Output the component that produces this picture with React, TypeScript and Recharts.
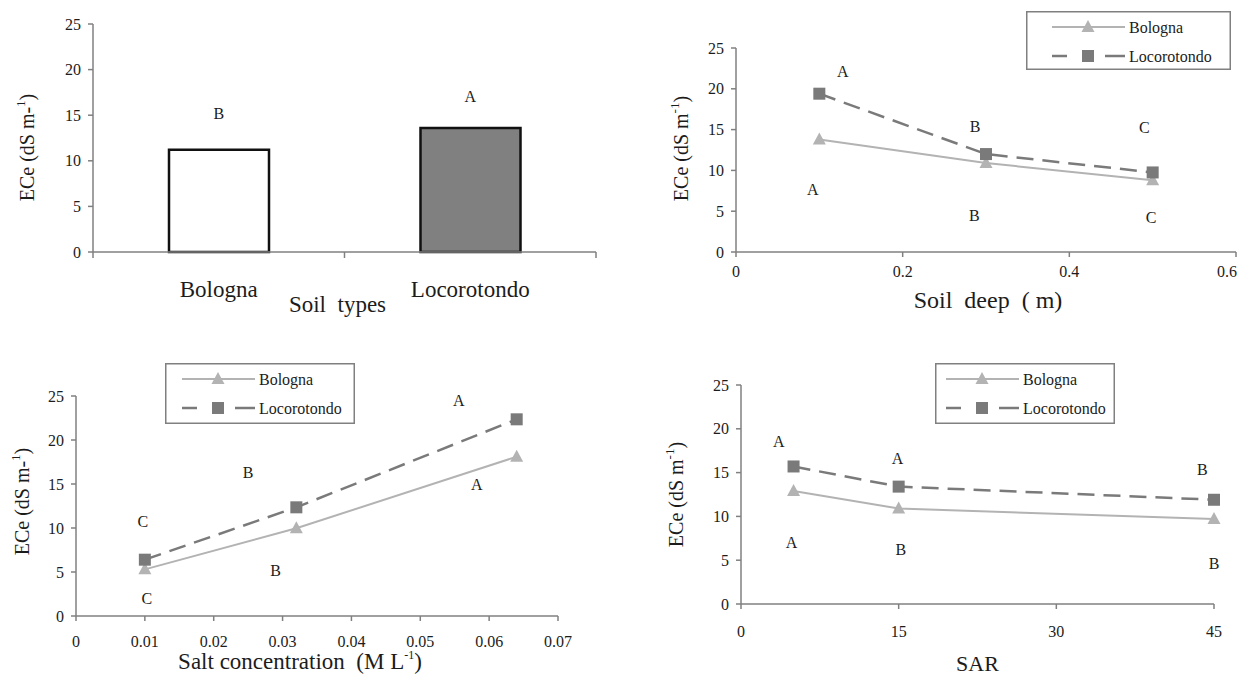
import React from 'react';
import { ComposedChart, Line, Bar, Cell, Scatter, XAxis, YAxis, Legend, Label } from 'recharts';

// ---------- data ----------
const seriesNames = ['Bologna', 'Locorotondo'];
const yTicks = [0, 5, 10, 15, 20, 25];

// Panel 1: soil types (bar)
const soilTypes = ['Bologna', 'Locorotondo'];
const soilEce = [11.2, 13.6];
const soilLetters = ['B', 'A'];
const soilLetterY = [15.2, 17.1];

// Panel 2: soil depth
const depthX = [0.1, 0.3, 0.5];
const depthBologna = [13.8, 10.9, 8.8];
const depthLoco = [19.4, 12.0, 9.75];
const depthTicks = [0, 0.2, 0.4, 0.6];
const depthLetterText = ['A', 'B', 'C', 'A', 'B', 'C'];
const depthLetterX = [0.128, 0.287, 0.49, 0.092, 0.286, 0.498];
const depthLetterY = [22.1, 15.4, 15.2, 7.6, 4.5, 4.2];

// Panel 3: salt concentration
const saltX = [0.01, 0.032, 0.064];
const saltBologna = [5.3, 9.97, 18.1];
const saltLoco = [6.4, 12.35, 22.35];
const saltTicks = [0, 0.01, 0.02, 0.03, 0.04, 0.05, 0.06, 0.07];
const saltLetterText = ['A', 'A', 'B', 'B', 'C', 'C'];
const saltLetterX = [0.0556, 0.0582, 0.025, 0.029, 0.0097, 0.0103];
const saltLetterY = [24.5, 15.0, 16.3, 5.2, 10.7, 2.0];

// Panel 4: SAR
const sarX = [5, 15, 45];
const sarBologna = [12.9, 10.9, 9.7];
const sarLoco = [15.7, 13.4, 11.9];
const sarTicks = [0, 15, 30, 45];
const sarLetterText = ['A', 'A', 'A', 'B', 'B', 'B'];
const sarLetterX = [3.6, 4.8, 14.9, 15.2, 43.9, 45];
const sarLetterY = [18.5, 7.0, 16.6, 6.2, 15.3, 4.6];

// ---------- styles ----------
const FONT = '"Liberation Serif", "Times New Roman", serif';
const TEXT = '#1c1c1c';
const AXIS = '#808080';
const BOL_COLOR = '#b3b3b3';
const LOC_COLOR = '#7a7a7a';
const barFills = ['#ffffff', '#808080'];

const toPoints = (xs: number[], ys: number[]) => xs.map((x, i) => ({ x, y: ys[i] }));
const toLetters = (ts: string[], xs: number[], ys: number[]) => ts.map((t, i) => ({ x: xs[i], y: ys[i], t }));

function TriangleDot(props: any) {
  const { cx, cy, index } = props;
  if (cx == null || cy == null) return <g key={index} />;
  return (
    <polygon
      key={index}
      points={`${cx},${cy - 7} ${cx - 6.5},${cy + 5} ${cx + 6.5},${cy + 5}`}
      fill={BOL_COLOR}
    />
  );
}

function SquareDot(props: any) {
  const { cx, cy, index } = props;
  if (cx == null || cy == null) return <g key={index} />;
  return <rect key={index} x={cx - 6} y={cy - 6} width={12} height={12} fill={LOC_COLOR} />;
}

function LetterShape(props: any) {
  const { cx, cy, payload } = props;
  return (
    <text x={cx} y={cy} textAnchor="middle" dominantBaseline="central" fontFamily={FONT} fontSize={16} fill={TEXT}>
      {payload.t}
    </text>
  );
}

function YTitle({ viewBox, xPos, dy, supOnlyOne }: any) {
  const cy = viewBox.y + viewBox.height / 2 + dy;
  return (
    <text
      x={xPos}
      y={cy}
      transform={`rotate(-90 ${xPos} ${cy})`}
      textAnchor="middle"
      dominantBaseline="central"
      fontFamily={FONT}
      fontSize={20}
      fill={TEXT}
    >
      {supOnlyOne ? 'ECe (dS m-' : 'ECe (dS m'}
      <tspan dy={-7} fontSize={13}>
        {supOnlyOne ? '1' : '-1'}
      </tspan>
      <tspan dy={7}>)</tspan>
    </text>
  );
}

function XTitle({ viewBox, dx, dy, size, children }: any) {
  const cx = viewBox.x + viewBox.width / 2 + dx;
  return (
    <text
      x={cx}
      y={viewBox.y + dy}
      textAnchor="middle"
      dominantBaseline="central"
      fontFamily={FONT}
      fontSize={size}
      fill={TEXT}
      style={{ whiteSpace: 'pre' }}
    >
      {children}
    </text>
  );
}

function LegendBox({ width, height, lineStart }: any) {
  const rowY = [16, 45];
  const len = 73;
  return (
    <svg width={width} height={height} style={{ display: 'block' }}>
      <rect x={0.75} y={0.75} width={width - 1.5} height={height - 1.5} fill="#fff" stroke={AXIS} strokeWidth={1.5} />
      <line x1={lineStart} x2={lineStart + len} y1={rowY[0]} y2={rowY[0]} stroke={BOL_COLOR} strokeWidth={2} />
      <polygon
        points={`${lineStart + 36},${rowY[0] - 7} ${lineStart + 29.5},${rowY[0] + 5} ${lineStart + 42.5},${rowY[0] + 5}`}
        fill={BOL_COLOR}
      />
      <text x={lineStart + len + 4} y={rowY[0]} dominantBaseline="central" fontFamily={FONT} fontSize={16} fill={TEXT}>
        {seriesNames[0]}
      </text>
      <line x1={lineStart} x2={lineStart + 15} y1={rowY[1]} y2={rowY[1]} stroke={LOC_COLOR} strokeWidth={2.5} />
      <line x1={lineStart + 53} x2={lineStart + len} y1={rowY[1]} y2={rowY[1]} stroke={LOC_COLOR} strokeWidth={2.5} />
      <rect x={lineStart + 30} y={rowY[1] - 6} width={12} height={12} fill={LOC_COLOR} />
      <text x={lineStart + len + 4} y={rowY[1]} dominantBaseline="central" fontFamily={FONT} fontSize={16} fill={TEXT}>
        {seriesNames[1]}
      </text>
    </svg>
  );
}

function SoilTick(props: any) {
  const { x, y, payload } = props;
  const v = payload.value;
  if (Number.isInteger(v)) {
    return <line x1={x} x2={x} y1={y - 5} y2={y + 1} stroke={AXIS} strokeWidth={1.5} />;
  }
  return (
    <text x={x} y={y + 32} textAnchor="middle" dominantBaseline="central" fontFamily={FONT} fontSize={23} fill={TEXT}>
      {soilTypes[Math.floor(v)]}
    </text>
  );
}

function EndTick(props: any) {
  const { x, y, payload, last } = props;
  const isLast = payload.value === last;
  return (
    <text
      x={isLast ? x + 1 : x}
      y={y}
      dy="0.71em"
      textAnchor={isLast ? 'end' : 'middle'}
      fontFamily={FONT}
      fontSize={16}
      fill={TEXT}
    >
      {String(payload.value)}
    </text>
  );
}

const tickStyle = { fill: TEXT, fontSize: 16, fontFamily: FONT };
const axisLineStyle = { stroke: AXIS, strokeWidth: 1.5 };
const tickLineStyle = { stroke: AXIS, strokeWidth: 1.5 };

type LinePanelProps = {
  left: number;
  top: number;
  width: number;
  height: number;
  plotTop: number;
  plotLeft: number;
  plotRight: number;
  xAxisHeight: number;
  xs: number[];
  bol: number[];
  loc: number[];
  xTicks: number[];
  letters: { x: number; y: number; t: string }[];
  tickMargin: number;
  yTitleX: number;
  yTitleDy: number;
  supOnlyOne?: boolean;
  xTitle: React.ReactNode;
  xTitleDx: number;
  xTitleDy: number;
  xTitleSize: number;
  legend: { left: number; top: number; width: number; height: number; lineStart: number };
  lastLabelEnd?: boolean;
};

function LinePanel(p: LinePanelProps) {
  const domainMax = p.xTicks[p.xTicks.length - 1];
  return (
    <div style={{ position: 'absolute', left: p.left, top: p.top }}>
      <ComposedChart
        width={p.width}
        height={p.height}
        margin={{ top: p.plotTop, right: p.width - p.plotRight, bottom: 0, left: 0 }}
      >
        <XAxis
          type="number"
          dataKey="x"
          domain={[0, domainMax]}
          ticks={p.xTicks}
          interval={0}
          height={p.xAxisHeight}
          tick={p.lastLabelEnd ? <EndTick last={domainMax} /> : tickStyle}
          tickSize={5}
          tickMargin={p.tickMargin}
          axisLine={axisLineStyle}
          tickLine={tickLineStyle}
        >
          <Label
            content={(lp: any) => (
              <XTitle viewBox={lp.viewBox} dx={p.xTitleDx} dy={p.xTitleDy} size={p.xTitleSize}>
                {p.xTitle}
              </XTitle>
            )}
          />
        </XAxis>
        <YAxis
          type="number"
          domain={[0, 25]}
          ticks={yTicks}
          interval={0}
          width={p.plotLeft}
          tick={tickStyle}
          tickSize={5}
          tickMargin={7}
          axisLine={axisLineStyle}
          tickLine={tickLineStyle}
        >
          <Label
            content={(lp: any) => (
              <YTitle viewBox={lp.viewBox} xPos={p.yTitleX} dy={p.yTitleDy} supOnlyOne={p.supOnlyOne} />
            )}
          />
        </YAxis>
        <Line
          data={toPoints(p.xs, p.bol)}
          dataKey="y"
          name={seriesNames[0]}
          type="linear"
          stroke={BOL_COLOR}
          strokeWidth={2}
          dot={(dp: any) => <TriangleDot key={`t${dp.index}`} {...dp} />}
          activeDot={false}
          isAnimationActive={false}
        />
        <Line
          data={toPoints(p.xs, p.loc)}
          dataKey="y"
          name={seriesNames[1]}
          type="linear"
          stroke={LOC_COLOR}
          strokeWidth={2.5}
          strokeDasharray="17 9"
          dot={(dp: any) => <SquareDot key={`s${dp.index}`} {...dp} />}
          activeDot={false}
          isAnimationActive={false}
        />
        <Scatter data={p.letters} dataKey="y" shape={LetterShape} isAnimationActive={false} legendType="none" />
        <Legend
          layout="vertical"
          align="center"
          verticalAlign="middle"
          width={p.legend.width}
          height={p.legend.height}
          wrapperStyle={{ left: p.legend.left, top: p.legend.top, width: p.legend.width, height: p.legend.height }}
          content={() => (
            <LegendBox width={p.legend.width} height={p.legend.height} lineStart={p.legend.lineStart} />
          )}
        />
      </ComposedChart>
    </div>
  );
}

function BarPanel() {
  const data = soilTypes.map((s, i) => ({ x: i + 0.5, ece: soilEce[i], name: s }));
  const letters = soilLetters.map((t, i) => ({ x: i + 0.5, y: soilLetterY[i], t }));
  const catTicks = [0, 0.5, 1, 1.5, 2];
  return (
    <div style={{ position: 'absolute', left: 0, top: 0 }}>
      <ComposedChart width={620} height={330} data={data} margin={{ top: 24, right: 24, bottom: 0, left: 0 }}>
        <XAxis
          type="number"
          dataKey="x"
          domain={[0, 2]}
          ticks={catTicks}
          interval={0}
          height={78}
          tick={<SoilTick />}
          tickSize={5}
          tickMargin={0}
          tickLine={false}
          axisLine={axisLineStyle}
        >
          <Label
            content={(lp: any) => (
              <XTitle viewBox={lp.viewBox} dx={-7} dy={52} size={23}>
                {'Soil\u00a0 types'}
              </XTitle>
            )}
          />
        </XAxis>
        <YAxis
          type="number"
          domain={[0, 25]}
          ticks={yTicks}
          interval={0}
          width={93}
          tick={tickStyle}
          tickSize={5}
          tickMargin={7}
          axisLine={axisLineStyle}
          tickLine={tickLineStyle}
        >
          <Label content={(lp: any) => <YTitle viewBox={lp.viewBox} xPos={27} dy={9.5} supOnlyOne />} />
        </YAxis>
        <Bar dataKey="ece" barSize={100} stroke="#111111" strokeWidth={2.5} isAnimationActive={false}>
          {data.map((d, i) => (
            <Cell key={d.name} fill={barFills[i]} />
          ))}
        </Bar>
        <Scatter data={letters} dataKey="y" shape={LetterShape} isAnimationActive={false} />
      </ComposedChart>
    </div>
  );
}

export default function App() {
  return (
    <div
      style={{
        position: 'absolute',
        left: 0,
        top: 0,
        width: 1237,
        height: 674,
        overflow: 'hidden',
        background: '#ffffff',
        fontFamily: FONT,
      }}
    >
      <BarPanel />
      <LinePanel
        left={620}
        top={0}
        width={617}
        height={330}
        plotTop={48}
        plotLeft={116}
        plotRight={616}
        xAxisHeight={78}
        xs={depthX}
        bol={depthBologna}
        loc={depthLoco}
        xTicks={depthTicks}
        letters={toLetters(depthLetterText, depthLetterX, depthLetterY)}
        tickMargin={9}
        yTitleX={61}
        yTitleDy={-1.5}
        xTitle={'Soil\u00a0 deep\u00a0 ( m)'}
        xTitleDx={2}
        xTitleDy={48}
        xTitleSize={24}
        legend={{ left: 406, top: 11, width: 205, height: 59, lineStart: 26 }}
        lastLabelEnd
      />
      <LinePanel
        left={0}
        top={330}
        width={620}
        height={344}
        plotTop={66}
        plotLeft={76}
        plotRight={558}
        xAxisHeight={58}
        xs={saltX}
        bol={saltBologna}
        loc={saltLoco}
        xTicks={saltTicks}
        letters={toLetters(saltLetterText, saltLetterX, saltLetterY)}
        tickMargin={15}
        yTitleX={22}
        yTitleDy={-4.5}
        supOnlyOne
        xTitle={
          <>
            {'Salt concentration\u00a0 (M L'}
            <tspan dy={-6} fontSize={12}>-1</tspan>
            <tspan dy={6}>)</tspan>
          </>
        }
        xTitleDx={-17}
        xTitleDy={45}
        xTitleSize={23}
        legend={{ left: 165, top: 33, width: 190, height: 61, lineStart: 17 }}
      />
      <LinePanel
        left={620}
        top={330}
        width={617}
        height={344}
        plotTop={55}
        plotLeft={121}
        plotRight={594}
        xAxisHeight={70}
        xs={sarX}
        bol={sarBologna}
        loc={sarLoco}
        xTicks={sarTicks}
        letters={toLetters(sarLetterText, sarLetterX, sarLetterY)}
        tickMargin={17}
        yTitleX={56}
        yTitleDy={0}
        xTitle={'SAR'}
        xTitleDx={0}
        xTitleDy={59}
        xTitleSize={22}
        legend={{ left: 315, top: 33, width: 180, height: 61, lineStart: 11 }}
      />
    </div>
  );
}
